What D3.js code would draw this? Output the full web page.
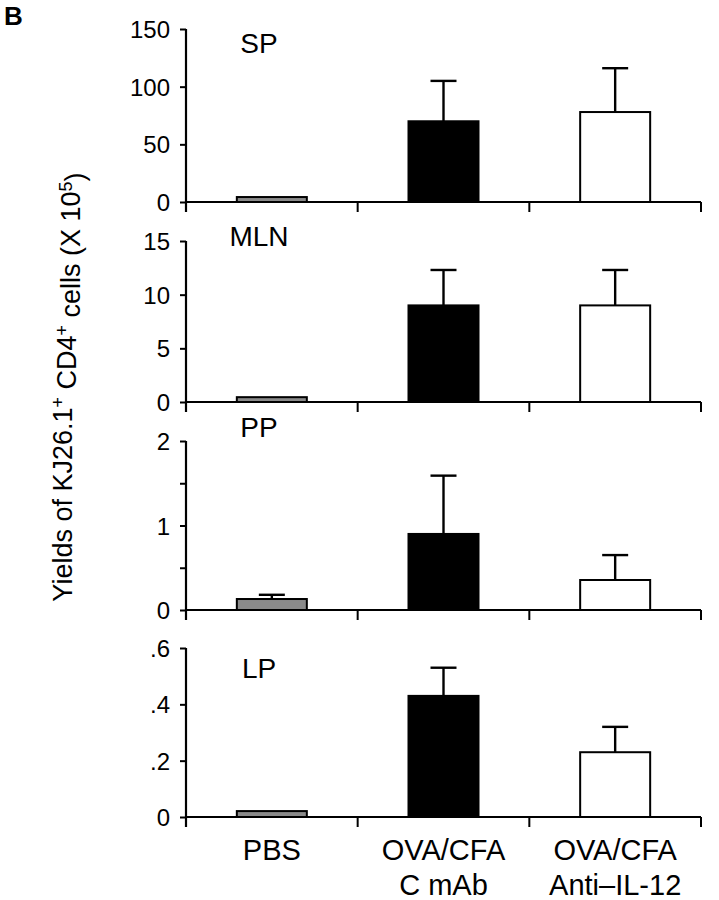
<!DOCTYPE html>
<html><head><meta charset="utf-8">
<script src="https://cdn.jsdelivr.net/npm/d3@7"></script>
<style>body{margin:0;background:#fff}svg{display:block}text{font-family:"Liberation Sans",Arial,sans-serif;fill:#000}</style>
</head><body>
<svg id="c" width="719" height="900"></svg>
<script>
const categories = ["PBS", "OVA/CFA\nC mAb", "OVA/CFA\nAnti–IL-12"];
const panels = ["SP", "MLN", "PP", "LP"];
const means = {
  SP:  [4.3, 70, 78],
  MLN: [0.45, 9.0, 9.0],
  PP:  [0.13, 0.90, 0.355],
  LP:  [0.021, 0.43, 0.23]
};
const errTops = {
  SP:  [null, 105, 116],
  MLN: [null, 12.3, 12.3],
  PP:  [0.18, 1.59, 0.65],
  LP:  [null, 0.53, 0.32]
};
const yMax = {SP:150, MLN:15, PP:2, LP:0.6};
const tickVals = {
  SP: [0, 50, 100, 150],
  MLN: [0, 5, 10, 15],
  PP: [0, 0.5, 1, 1.5, 2],
  LP: [0, 0.2, 0.4, 0.6]
};
const tickLabels = {
  SP: ["0", "50", "100", "150"],
  MLN: ["0", "5", "10", "15"],
  PP: ["0", "", "1", "", "2"],
  LP: ["0", ".2", ".4", ".6"]
};
const fills = ["#8a8a8a", "#000000", "#ffffff"];

const layout = {SP:[202,29], MLN:[402,241], PP:[610,441], LP:[817,648]};
const labelY = {SP:53, MLN:246, PP:437, LP:678};
const svg = d3.select("#c");
const x0 = 186, x1 = 701;
const x = d3.scaleBand().domain(categories).range([x0, x1]);
const barW = 70, capW = 26;

panels.forEach(p => {
  const y = d3.scaleLinear().domain([0, yMax[p]]).range(layout[p]);
  const g = svg.append("g");
  // y axis
  const ya = d3.axisLeft(y).tickValues(tickVals[p]).tickSize(6).tickPadding(10)
    .tickFormat((d,i) => tickLabels[p][i]);
  const yg = g.append("g").attr("transform", `translate(${x0},0)`).call(ya);
  yg.select(".domain").remove();
  yg.selectAll(".tick line").attr("stroke", "#000").attr("stroke-width", 2);
  yg.selectAll(".tick text").style("font-size", "24px").attr("dy", "0.36em");
  g.append("line").attr("x1", x0).attr("x2", x0).attr("y1", y(yMax[p])).attr("y2", y(0) + 10)
    .attr("stroke", "#000").attr("stroke-width", 2.2);
  // x axis
  g.append("line").attr("x1", x0).attr("x2", x1).attr("y1", y(0)).attr("y2", y(0))
    .attr("stroke", "#000").attr("stroke-width", 2.2);
  const bounds = categories.map(c => x(c)).concat([x1]);
  g.selectAll(".bt").data(bounds.slice(1)).join("line")
    .attr("x1", d => d).attr("x2", d => d).attr("y1", y(0)).attr("y2", y(0) + 10)
    .attr("stroke", "#000").attr("stroke-width", 2);
  // error bars
  categories.forEach((c, i) => {
    const cx = x(c) + x.bandwidth() / 2;
    const et = errTops[p][i];
    if (et != null) {
      g.append("line").attr("x1", cx).attr("x2", cx).attr("y1", y(means[p][i])).attr("y2", y(et))
        .attr("stroke", "#000").attr("stroke-width", 2.4);
      g.append("line").attr("x1", cx - capW/2).attr("x2", cx + capW/2).attr("y1", y(et)).attr("y2", y(et))
        .attr("stroke", "#000").attr("stroke-width", 2.4);
    }
  });
  // bars
  g.selectAll(".bar").data(categories).join("rect")
    .attr("x", c => x(c) + x.bandwidth()/2 - barW/2)
    .attr("width", barW)
    .attr("y", (c, i) => y(means[p][i]))
    .attr("height", (c, i) => y(0) - y(means[p][i]))
    .attr("fill", (c, i) => fills[i])
    .attr("stroke", "#000").attr("stroke-width", 2);
  g.append("text").attr("x", 259).attr("y", labelY[p]).attr("text-anchor", "middle")
    .style("font-size", "28px").text(p);
});

// category labels
categories.forEach(c => {
  const cx = x(c) + x.bandwidth() / 2;
  c.split("\n").forEach((line, k) => {
    svg.append("text").attr("x", cx).attr("y", 860 + k * 35).attr("text-anchor", "middle")
      .style("font-size", "29px").text(line);
  });
});

// y title
const yt = svg.append("text").attr("transform", "translate(72,387) rotate(-90)")
  .attr("text-anchor", "middle").style("font-size", "27px");
yt.append("tspan").text("Yields of KJ26.1");
yt.append("tspan").attr("dy", "-0.45em").style("font-size", "18px").text("+");
yt.append("tspan").attr("dy", "0.45em").text(" CD4");
yt.append("tspan").attr("dy", "-0.45em").style("font-size", "18px").text("+");
yt.append("tspan").attr("dy", "0.45em").text(" cells (X 10");
yt.append("tspan").attr("dy", "-0.45em").style("font-size", "18px").text("5");
yt.append("tspan").attr("dy", "0.45em").text(")");

svg.append("text").attr("x", 4).attr("y", 25).style("font-size", "26px").style("font-weight", "bold").text("B");
</script>
</body></html>
